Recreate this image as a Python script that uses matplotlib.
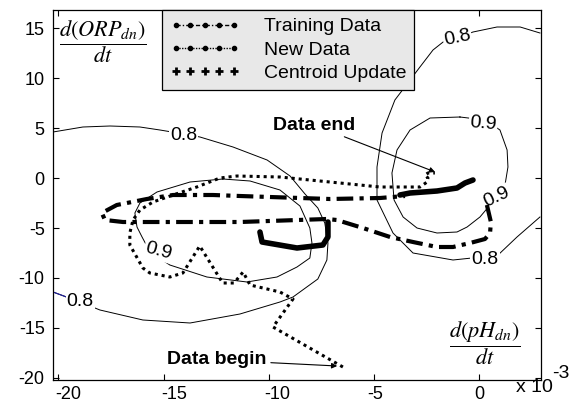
import numpy as np
import matplotlib
matplotlib.use("Agg")
import matplotlib.pyplot as plt
import matplotlib.transforms as mtransforms
from matplotlib.lines import Line2D

plt.rcParams['font.family'] = ['Liberation Sans', 'DejaVu Sans']
plt.rcParams['mathtext.fontset'] = 'stix'

# ---------------- data (x in units of 1e-3) ----------------
train_x = [0.36, 0.55, 0.51, 0.27, -0.44, -1.25, -2.01, -3.15, -4.24, -5.53, -6.77, -7.24,
           -11.37, -14.22, -16.93, -17.78, -17.93, -17.22, -15.79, -14.55, -12.65, -11.37,
           -7.10, -4.72, -3.53]
train_y = [-2.7, -4.4, -5.5, -6.1, -6.5, -6.9, -6.9, -6.4, -5.9, -5.0, -4.2, -4.1,
           -4.4, -4.4, -4.4, -4.2, -3.5, -2.7, -2.1, -1.7, -1.7, -1.8,
           -2.1, -2.0, -1.8]

new_x = [-6.48, -9.80, -8.85, -9.47, -10.89, -11.22, -11.65, -12.19, -13.28, -14.08, -14.70,
         -15.65, -15.98, -16.60, -16.60, -16.45, -16.12, -15.50, -14.55, -13.42, -12.32,
         -11.51, -9.47, -7.10, -4.72, -2.82, -2.48, -2.44, -2.58, -2.44, -2.11]
new_y = [-18.9, -14.9, -12.1, -11.4, -10.7, -9.4, -10.5, -10.5, -6.8, -9.5, -9.9,
         -9.5, -9.0, -6.7, -5.5, -4.2, -3.2, -2.4, -1.7, -0.9, 0.0,
         0.2, 0.1, -0.4, -0.9, -0.9, -0.4, 0.0, 0.3, 0.5, 0.5]

cent1_x = [-7.19, -7.19, -7.43, -8.66, -10.32, -10.42]
cent1_y = [-4.4, -5.9, -6.7, -7.0, -6.4, -5.4]
cent2_x = [-3.77, -3.29, -2.01, -1.06, -0.68, -0.30]
cent2_y = [-1.7, -1.5, -1.3, -1.0, -0.5, -0.2]

# membership contour lines
c_left09_x = [-12.18, -10.89, -9.47, -8.52, -8.05, -7.95, -8.05, -8.66, -9.61, -11.04,
              -12.94, -14.70, -15.64, -16.02, -16.26, -16.36, -16.12, -15.31, -13.74, -12.18]
c_left09_y = [-0.1, -0.3, -1.2, -2.8, -5.0, -6.5, -8.0, -8.9, -9.9, -10.4,
              -9.9, -8.7, -7.4, -5.9, -4.9, -3.5, -2.5, -1.4, -0.4, -0.1]
c_left08_x = [-20.25, -18.83, -17.54, -16.12, -15.17, -14.03, -13.27, -11.70, -10.08, -8.99,
              -8.28, -7.67, -7.34, -7.19, -7.24, -7.67, -8.85, -9.47, -11.37, -13.74,
              -15.98, -18.02, -18.97, -20.25]
c_left08_y = [4.6, 5.1, 5.2, 5.1, 4.8, 4.4, 4.1, 3.1, 1.8, 0.2,
              -1.6, -3.0, -4.5, -6.5, -8.2, -10.1, -11.9, -12.4, -13.6, -14.5,
              -14.2, -13.2, -12.4, -11.4]
c_right09_x = [-0.92, -2.34, -3.29, -3.91, -4.15, -4.05, -3.62, -2.96, -2.01, -1.06, -0.58,
               0.03, 0.51, 1.22, 1.36, 1.32, 0.98, 0.27, -0.92]
c_right09_y = [6.1, 6.0, 4.8, 2.8, 0.5, -2.2, -3.9, -5.0, -5.5, -5.4, -4.9,
               -3.9, -2.7, -0.7, 1.1, 2.8, 4.8, 5.8, 6.1]
c_right08_x = [2.88, 1.79, 0.89, -0.35, -1.25, -3.15, -4.10, -4.86, -4.86, -4.62, -4.01,
               -2.82, -2.20, -1.72, -1.06, -0.30, 0.84, 1.94, 2.88]
c_right08_y = [-3.9, -5.9, -7.7, -8.0, -8.2, -7.5, -5.5, -2.2, 1.1, 4.5, 7.8,
               11.1, 12.8, 13.6, 14.0, 14.6, 15.1, 15.1, 14.5]

# contour labels: text, position, rotation
lab_text = ['0.8', '0.9', '0.8', '0.8', '0.9', '0.9', '0.8']
lab_x = [-14.03, -15.25, -18.96, -1.04, 0.18, 0.84, 0.27]
lab_y = [4.3, -7.3, -12.4, 14.0, 5.4, -1.9, -8.1]
lab_rot = [0, -15, 0, 12, -5, 25, 0]

xticks = [-20, -15, -10, -5, 0]
xticklabels = ['-20', '-15', '-10', '-5', '0']
yticks = [-20, -15, -10, -5, 0, 5, 10, 15]
yticklabels = ['-20', '-15', '-10', '-5', '0', '5', '10', '15']

legend_labels = ['Training Data', 'New Data', 'Centroid Update']

# ---------------- figure ----------------
W, H = 574, 405
fig = plt.figure(figsize=(W / 100, H / 100), dpi=100)
ax = fig.add_axes([53 / W, (H - 380) / H, 488 / W, 370 / H])
ax.set_xlim(-20.25, 2.93)
ax.set_ylim(-20.2, 16.8)

for cx, cy in [(c_left09_x, c_left09_y), (c_left08_x, c_left08_y),
               (c_right09_x, c_right09_y), (c_right08_x, c_right08_y)]:
    ax.plot(cx, cy, color='black', lw=0.7, zorder=1)
# small coloured piece of the outer contour at the left border
ax.plot(c_left08_x[-2:], c_left08_y[-2:], color='#1f1fa0', lw=0.8, zorder=1.5)

for txt, lx, ly, rot in zip(lab_text, lab_x, lab_y, lab_rot):
    ax.text(lx, ly, txt, fontsize=14, rotation=rot, ha='center', va='center',
            rotation_mode='anchor', zorder=2,
            bbox=dict(boxstyle='square,pad=0.05', fc='white', ec='none'))

# data lines
ax.plot(train_x, train_y, color='black', lw=3, dashes=(4, 1.5, 1, 1.5), zorder=3)
ax.plot(new_x, new_y, color='black', lw=2.2, dashes=(1, 1.3), zorder=3)
for cxs, cys in [(cent1_x, cent1_y), (cent2_x, cent2_y)]:
    ax.plot(cxs, cys, color='black', lw=4, solid_capstyle='round',
            solid_joinstyle='round', zorder=4)

# annotations
arrow = dict(arrowstyle='-|>', lw=0.8, color='black', mutation_scale=8,
             shrinkA=1, shrinkB=0)
ax.annotate('Data end', xy=(-2.1, 0.6), xytext=(-5.9, 5.3), ha='right', va='center',
            fontsize=14, fontweight='bold', arrowprops=arrow, zorder=5)
ax.annotate('Data begin', xy=(-6.75, -18.8), xytext=(-10.1, -18.2), ha='right',
            va='center', fontsize=14, fontweight='bold', arrowprops=arrow, zorder=5)

# axis labels as fractions
ax.text(0.1025, 0.9135, r'$\dfrac{d\left(ORP_{dn}\right)}{dt}$', transform=ax.transAxes,
        ha='center', va='center', fontsize=16)
ax.text(0.885, 0.10, r'$\dfrac{d\left(pH_{dn}\right)}{dt}$', transform=ax.transAxes,
        ha='center', va='center', fontsize=16)
fig.text(534 / W, 1 - 388 / H, 'x 10', ha='center', va='center', fontsize=14)
fig.text(561 / W, 1 - 373 / H, '-3', ha='center', va='center', fontsize=14)

# ticks (x labels drawn as texts, as they sit slightly right of their ticks)
ax.set_xticks(xticks)
ax.set_xticklabels([])
xlabel_shift = [10, 11, 8, 1, 0]
for xv, lbl, dx in zip(xticks, xticklabels, xlabel_shift):
    tr = ax.get_xaxis_transform() + mtransforms.ScaledTranslation(dx / 100, -6 / 100,
                                                                 fig.dpi_scale_trans)
    ax.text(xv, 0, lbl, transform=tr, ha='center', va='top', fontsize=13, clip_on=False)
ax.set_yticks(yticks)
ax.set_yticklabels(yticklabels)
ax.tick_params(direction='in', length=4, width=0.8, labelsize=13, top=True, right=True,
               pad=6)
for s in ax.spines.values():
    s.set_linewidth(0.9)

# legend
handles = [
    Line2D([], [], color='black', lw=1.0, dashes=(3, 1.5, 1, 1.5), marker='o', ms=3),
    Line2D([], [], color='black', lw=1.0, dashes=(1, 1), marker='o', ms=3),
    Line2D([], [], color='black', ls='none', marker='+', ms=6, mew=2),
]
leg = ax.legend(handles, legend_labels, loc='upper left', bbox_to_anchor=(109 / 488, 1.0),
                borderaxespad=0, fontsize=14, numpoints=5, handlelength=3.6,
                handletextpad=1.25, labelspacing=0.3, borderpad=0.4, fancybox=False,
                framealpha=1, facecolor='#e8e8e8', edgecolor='black')
leg.get_frame().set_linewidth(0.9)
leg.set_zorder(6)

fig.savefig('out.png', dpi=100)
